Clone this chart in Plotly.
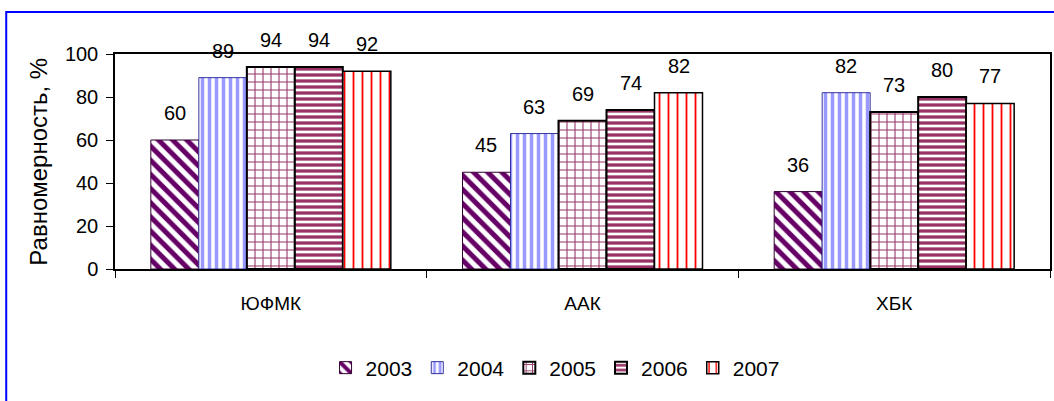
import plotly.graph_objects as go

# ---- data ----
categories = ["ЮФМК", "ААК", "ХБК"]
years = ["2003", "2004", "2005", "2006", "2007"]
v2003 = [60, 45, 36]
v2004 = [89, 63, 82]
v2005 = [94, 69, 73]
v2006 = [94, 74, 80]
v2007 = [92, 82, 77]
y_title = "Равномерность, %"
y_ticks = [0, 20, 40, 60, 80, 100]

series = [v2003, v2004, v2005, v2006, v2007]

# ---- styles ----
styles = [
    dict(shape="\\", fg="#660066", size=10, sol=0.5, lc="#330033", lw=1),
    dict(shape="|", fg="#9999FF", size=7, sol=0.5, lc="#333399", lw=1),
    dict(shape="+", fg="#993366", size=8, sol=0.25, lc="black", lw=2),
    dict(shape="-", fg="#993366", size=6, sol=0.55, lc="black", lw=2),
    dict(shape="|", fg="#FF0000", size=9, sol=0.2, lc="black", lw=1.5),
]

W, H = 1054, 401
ML, MR, MT, MB = 115, 2, 54, 132
PW = W - ML - MR
PH = H - MT - MB
BARGAP = 0.23
FONT = "Liberation Sans, Arial, sans-serif"

fig = go.Figure()
for yr, vals, st in zip(years, series, styles):
    fig.add_trace(go.Bar(
        name=yr, x=categories, y=vals,
        marker=dict(color="white",
                    line=dict(color=st["lc"], width=st["lw"]),
                    pattern=dict(shape=st["shape"], fgcolor=st["fg"], bgcolor="white",
                                 fgopacity=1, size=st["size"], solidity=st["sol"])),
    ))

# value labels above bars
bw = PW / len(categories) * (1 - BARGAP) / len(years)
annots = []
for i, vals in enumerate(series):
    for cat, v in zip(categories, vals):
        annots.append(dict(x=cat, y=v, xref="x", yref="y", text=str(v), showarrow=False,
                           xshift=(i - (len(years) - 1) / 2) * bw, yshift=14,
                           yanchor="bottom", font=dict(size=20, color="black", family=FONT)))

# y title
annots.append(dict(x=(38 - ML) / PW, y=0.5, xref="paper", yref="paper", text=y_title,
                   textangle=-90, showarrow=False, xanchor="center", yanchor="middle",
                   font=dict(size=24, color="black", family=FONT)))

fig.update_layout(
    width=W, height=H,
    margin=dict(l=ML, r=MR, t=MT, b=MB),
    paper_bgcolor="white", plot_bgcolor="white",
    barmode="group", bargap=BARGAP, bargroupgap=0,
    font=dict(family=FONT, size=20, color="black"),
    showlegend=True,
    legend=dict(orientation="h", x=(556 - ML) / PW, xanchor="center",
                y=(269 - 368) / PH, yanchor="middle",
                font=dict(size=21), traceorder="normal", itemwidth=30),
    annotations=annots,
    shapes=[dict(type="rect", xref="paper", yref="paper",
                 x0=(6 - ML) / PW, x1=(1070 - ML) / PW,
                 y0=(269 - 420) / PH, y1=(269 - 12) / PH,
                 line=dict(color="#0000FF", width=2), fillcolor="rgba(0,0,0,0)", layer="below")],
)
fig.update_xaxes(showline=True, linecolor="black", linewidth=1.5, mirror=True,
                 ticks="outside", ticklen=7, tickcolor="black", tickson="boundaries",
                 showgrid=False, zeroline=False, ticklabelstandoff=16,
                 tickfont=dict(size=19))
fig.update_yaxes(range=[0, 100], tickvals=y_ticks, showline=True, linecolor="black",
                 linewidth=1.5, mirror=True, ticks="outside", ticklen=7, tickcolor="black",
                 showgrid=False, zeroline=False, tickfont=dict(size=20), ticklabelstandoff=4)

fig.write_html("out.html", config={"displayModeBar": False},
               post_script="document.body.style.margin='0';document.body.style.overflow='hidden';")
